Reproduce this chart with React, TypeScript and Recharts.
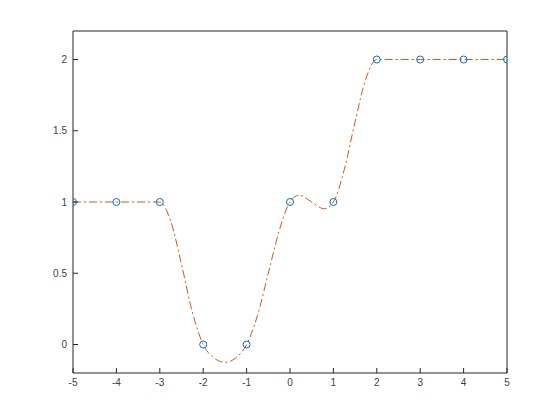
import { Line, LineChart, XAxis, YAxis } from 'recharts';

// sample points (markers)
const pointX = [-5, -4, -3, -2, -1, 0, 1, 2, 3, 4, 5];
const pointY = [1, 1, 1, 0, 0, 1, 1, 2, 2, 2, 2];

// smooth curve
const curveX = [
  -5, -4, -3, -2.75, -2.5, -2.25, -2, -1.75, -1.5, -1.25, -1, -0.75, -0.5,
  -0.25, 0, 0.21, 0.5, 0.79, 1, 1.25, 1.5, 1.75, 2, 3, 4, 5,
];
const curveY = [
  1, 1, 1, 0.867, 0.563, 0.227, 0, -0.094, -0.125, -0.094, 0, 0.203, 0.5,
  0.797, 1, 1.048, 1, 0.952, 1, 1.227, 1.563, 1.867, 2, 2, 2, 2,
];

const xTicks = [-5, -4, -3, -2, -1, 0, 1, 2, 3, 4, 5];
const yTicks = [0, 0.5, 1, 1.5, 2];

const points = pointX.map((x, i) => ({ x, y: pointY[i] }));
const curve = curveX.map((x, i) => ({ x, y: curveY[i] }));

const axisColor = '#262626';
const tickStyle = { fontSize: 10, fill: '#404040', fontFamily: 'Liberation Sans, Arial, sans-serif' };

export default function App() {
  return (
    <div style={{ position: 'absolute', left: 0, top: 0, width: 560, height: 420, background: '#fff' }}>
      <LineChart
        width={560}
        height={420}
        margin={{ top: 21, right: 43, bottom: 0, left: 0 }}
      >
        <XAxis
          xAxisId='bottom'
          type='number'
          dataKey='x'
          domain={[-5, 5]}
          ticks={xTicks}
          height={47}
          tickSize={-5}
          tickMargin={11}
          stroke={axisColor}
          tick={tickStyle}
          tickLine={{ stroke: axisColor }}
          allowDataOverflow
        />
        <XAxis
          xAxisId='top'
          orientation='top'
          type='number'
          dataKey='x'
          domain={[-5, 5]}
          ticks={xTicks}
          height={10}
          tickSize={-5}
          stroke={axisColor}
          tick={false}
          tickLine={{ stroke: axisColor }}
          allowDataOverflow
        />
        <YAxis
          yAxisId='left'
          type='number'
          domain={[-0.2, 2.2]}
          ticks={yTicks}
          width={73}
          tickSize={-5}
          tickMargin={11}
          stroke={axisColor}
          tick={tickStyle}
          tickLine={{ stroke: axisColor }}
          allowDataOverflow
        />
        <YAxis
          yAxisId='right'
          orientation='right'
          type='number'
          domain={[-0.2, 2.2]}
          ticks={yTicks}
          width={10}
          tickSize={-5}
          stroke={axisColor}
          tick={false}
          tickLine={{ stroke: axisColor }}
          allowDataOverflow
        />
        <Line
          xAxisId='bottom'
          yAxisId='left'
          data={curve}
          dataKey='y'
          type='monotone'
          stroke='#D95319'
          strokeWidth={1}
          strokeDasharray='8 3 2 3'
          dot={false}
          isAnimationActive={false}
        />
        <Line
          xAxisId='bottom'
          yAxisId='left'
          data={points}
          dataKey='y'
          type='linear'
          stroke='none'
          dot={{ r: 3.5, stroke: '#0072BD', strokeWidth: 1, fill: 'none' }}
          isAnimationActive={false}
        />
      </LineChart>
    </div>
  );
}
